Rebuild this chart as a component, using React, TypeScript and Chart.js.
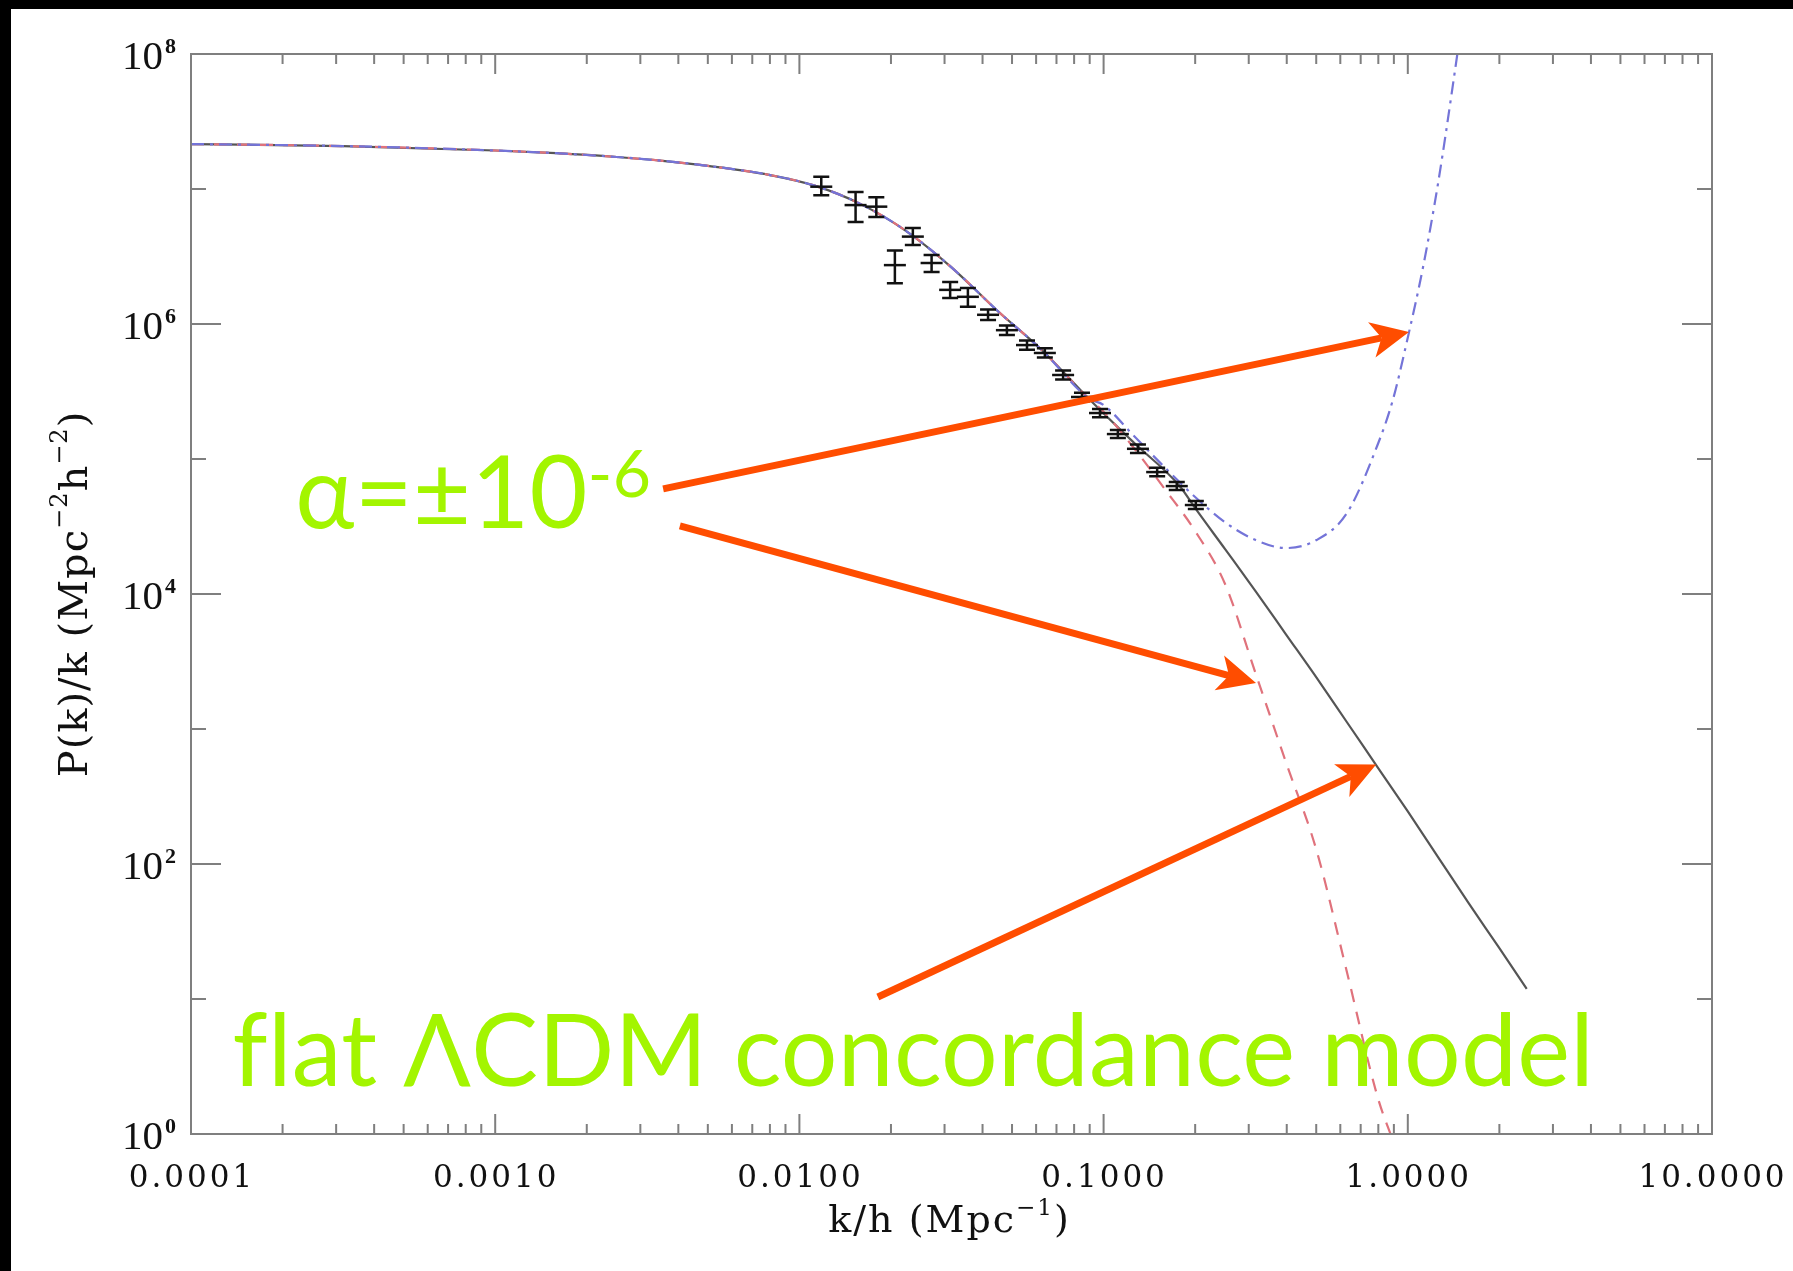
import React, { useEffect, useRef } from "react";
import { Chart, registerables } from "chart.js";

Chart.register(...registerables);

const WIDTH = 1793;
const HEIGHT = 1271;

// ---------- data (k in h/Mpc, P(k)/k in Mpc^-2 h^-2) ----------
// flat ΛCDM concordance model (solid)
const lcdmK = [1e-4, 3.16e-4, 1e-3, 1.585e-3, 2.51e-3, 3.55e-3, 5.01e-3, 7.94e-3, 0.01122, 0.01585, 0.02239, 0.03162, 0.04467, 0.0631, 0.0891, 0.1259, 0.1778, 0.1995, 0.2512, 0.3162, 0.3981, 0.5012, 0.631, 0.794, 1.0, 1.259, 1.585, 1.995, 2.46];
const lcdmP = [2.153e7, 2.08e7, 1.928e7, 1.841e7, 1.726e7, 1.617e7, 1.483e7, 1.274e7, 1.059e7, 7.76e6, 4.9e6, 2.63e6, 1.259e6, 6.31e5, 2.82e5, 1.318e5, 6.31e4, 4.36e4, 2.14e4, 1.047e4, 5.01e3, 2.4e3, 1122, 525, 245, 112, 51.3, 24.0, 11.9];

// α = -10^-6 (red dashed)
const dashedK = [1e-4, 3.16e-4, 1e-3, 1.585e-3, 2.51e-3, 3.55e-3, 5.01e-3, 7.94e-3, 0.01122, 0.01585, 0.02239, 0.03162, 0.04467, 0.0631, 0.0891, 0.1, 0.1259, 0.1585, 0.1995, 0.2512, 0.3162, 0.3981, 0.5012, 0.631, 0.794, 0.912];
const dashedP = [2.153e7, 2.08e7, 1.928e7, 1.841e7, 1.726e7, 1.617e7, 1.483e7, 1.274e7, 1.059e7, 7.76e6, 4.9e6, 2.63e6, 1.259e6, 6.31e5, 2.82e5, 2.24e5, 1.202e5, 6.03e4, 2.95e4, 1.175e4, 2.57e3, 562, 126, 15.8, 1.91, 0.79];

// α = +10^-6 (blue dash-dot)
const dashDotK = [1e-4, 3.16e-4, 1e-3, 1.585e-3, 2.51e-3, 3.55e-3, 5.01e-3, 7.94e-3, 0.01122, 0.01585, 0.02239, 0.03162, 0.04467, 0.0631, 0.0891, 0.1, 0.1259, 0.1585, 0.1995, 0.2512, 0.3162, 0.3981, 0.5012, 0.631, 0.794, 0.891, 1.0, 1.122, 1.259, 1.413, 1.585];
const dashDotP = [2.153e7, 2.08e7, 1.928e7, 1.841e7, 1.726e7, 1.617e7, 1.483e7, 1.274e7, 1.059e7, 7.76e6, 4.9e6, 2.63e6, 1.259e6, 6.31e5, 2.82e5, 2.51e5, 1.479e5, 8.71e4, 5.25e4, 3.39e4, 2.51e4, 2.19e4, 2.51e4, 3.98e4, 1.259e5, 2.69e5, 7.94e5, 2.63e6, 1.122e7, 6.31e7, 3.98e8];

// measured band powers with error bars
const obsK = [0.0118, 0.0153, 0.0179, 0.0206, 0.0236, 0.0272, 0.0313, 0.0358, 0.0417, 0.0481, 0.056, 0.0641, 0.0736, 0.0849, 0.0973, 0.1114, 0.1297, 0.15, 0.174, 0.201];
const obsP = [1.04e7, 7.6e6, 7.4e6, 2.73e6, 4.44e6, 2.83e6, 1.79e6, 1.59e6, 1.17e6, 9.0e5, 6.98e5, 6.1e5, 4.19e5, 2.88e5, 2.19e5, 1.53e5, 1.19e5, 8.0e4, 6.3e4, 4.56e4];
const obsLo = [9.0e6, 5.7e6, 6.2e6, 2.0e6, 3.85e6, 2.43e6, 1.56e6, 1.34e6, 1.07e6, 8.3e5, 6.45e5, 5.65e5, 3.88e5, 2.68e5, 2.04e5, 1.43e5, 1.11e5, 7.45e4, 5.9e4, 4.27e4];
const obsHi = [1.23e7, 9.5e6, 8.7e6, 3.5e6, 5.14e6, 3.24e6, 2.05e6, 1.85e6, 1.28e6, 9.75e5, 7.55e5, 6.6e5, 4.52e5, 3.1e5, 2.35e5, 1.64e5, 1.28e5, 8.6e4, 6.75e4, 4.88e4];

// axes
const xMajorTicks = [1e-4, 1e-3, 1e-2, 1e-1, 1, 10];
const xTickLabels = ["0.0001", "0.0010", "0.0100", "0.1000", "1.0000", "10.0000"];
const xMinorMultipliers = [2, 3, 4, 5, 6, 7, 8, 9];
const yMajorTicks = [1, 1e2, 1e4, 1e6, 1e8];
const yTickExponents = ["0", "2", "4", "6", "8"];
const yMinorTicks = [10, 1e3, 1e5, 1e7];

// annotations (anchored in data coordinates)
const alphaText = "α=±10";
const alphaExp = "-6";
const alphaAnchor = { k: 2.2e-4, p: 3.08e4 };
const modelText = "flat ΛCDM concordance model";
const modelAnchor = { k: 1.37e-4, p: 2.25 };
const arrowTailK = [0.003565, 0.004046, 0.01811];
const arrowTailP = [6.0e4, 3.19e4, 10.35];
const arrowHeadK = [1.009, 0.317, 0.787];
const arrowHeadP = [8.71e5, 2193, 545];

const ORANGE = "#ff4d00";
const LIME = "#a3f500";
const AXIS = "#7f7f7f";

type Seg = { t: string; sup?: boolean };

function drawRich(
  ctx: CanvasRenderingContext2D,
  segs: Seg[],
  x: number,
  y: number,
  baseFont: string,
  supFont: string,
  raise: number,
  align: "left" | "center" | "right",
  spacing = "0px"
) {
  ctx.textAlign = "left";
  ctx.textBaseline = "alphabetic";
  (ctx as any).letterSpacing = spacing;
  const widths = segs.map((s) => {
    ctx.font = s.sup ? supFont : baseFont;
    return ctx.measureText(s.t).width;
  });
  const total = widths.reduce((a, b) => a + b, 0);
  let cx = align === "center" ? x - total / 2 : align === "right" ? x - total : x;
  segs.forEach((s, i) => {
    ctx.font = s.sup ? supFont : baseFont;
    ctx.fillText(s.t, cx, s.sup ? y - raise : y);
    cx += widths[i];
  });
  (ctx as any).letterSpacing = "0px";
}

function drawArrow(ctx: CanvasRenderingContext2D, tx: number, ty: number, hx: number, hy: number) {
  const ang = Math.atan2(hy - ty, hx - tx);
  const ux = Math.cos(ang), uy = Math.sin(ang);
  const nx = -uy, ny = ux;
  const L = 38, W = 18, N = 10;
  const bx = hx - L * ux, by = hy - L * uy;
  const mx = hx - (L - N) * ux, my = hy - (L - N) * uy;
  ctx.strokeStyle = ORANGE;
  ctx.fillStyle = ORANGE;
  ctx.lineWidth = 7;
  ctx.lineCap = "butt";
  ctx.beginPath();
  ctx.moveTo(tx, ty);
  ctx.lineTo(mx, my);
  ctx.stroke();
  ctx.beginPath();
  ctx.moveTo(hx, hy);
  ctx.lineTo(bx + W * nx, by + W * ny);
  ctx.lineTo(mx, my);
  ctx.lineTo(bx - W * nx, by - W * ny);
  ctx.closePath();
  ctx.fill();
}

const paperPlugin = {
  id: "paper",
  beforeDraw(chart: any) {
    const { ctx, width, height } = chart;
    ctx.save();
    ctx.fillStyle = "#000";
    ctx.fillRect(0, 0, width, height);
    ctx.fillStyle = "#fff";
    ctx.fillRect(11, 9, width - 11, height - 9);
    ctx.restore();
  },
  afterDatasetsDraw(chart: any) {
    const { ctx, chartArea: a } = chart;
    const xs = chart.scales.x;
    const ys = chart.scales.y;
    ctx.save();

    // error bars
    ctx.strokeStyle = "#111";
    ctx.lineWidth = 2.5;
    obsK.forEach((k, i) => {
      const x = xs.getPixelForValue(k);
      const y1 = ys.getPixelForValue(obsLo[i]);
      const y2 = ys.getPixelForValue(obsHi[i]);
      ctx.beginPath();
      ctx.moveTo(x, y1);
      ctx.lineTo(x, y2);
      ctx.moveTo(x - 8, y1);
      ctx.lineTo(x + 8, y1);
      ctx.moveTo(x - 8, y2);
      ctx.lineTo(x + 8, y2);
      ctx.stroke();
    });

    // frame
    ctx.strokeStyle = AXIS;
    ctx.lineWidth = 2;
    ctx.strokeRect(a.left, a.top, a.right - a.left, a.bottom - a.top);

    // x ticks (inward, bottom and top)
    ctx.beginPath();
    xMajorTicks.forEach((v, i) => {
      const px = xs.getPixelForValue(v);
      ctx.moveTo(px, a.bottom);
      ctx.lineTo(px, a.bottom - 20);
      ctx.moveTo(px, a.top);
      ctx.lineTo(px, a.top + 20);
      if (i < xMajorTicks.length - 1) {
        xMinorMultipliers.forEach((m) => {
          const mx = xs.getPixelForValue(v * m);
          ctx.moveTo(mx, a.bottom);
          ctx.lineTo(mx, a.bottom - 10);
          ctx.moveTo(mx, a.top);
          ctx.lineTo(mx, a.top + 10);
        });
      }
    });
    // y ticks (inward, left and right)
    yMajorTicks.forEach((v) => {
      const py = ys.getPixelForValue(v);
      ctx.moveTo(a.left, py);
      ctx.lineTo(a.left + 30, py);
      ctx.moveTo(a.right, py);
      ctx.lineTo(a.right - 30, py);
    });
    yMinorTicks.forEach((v) => {
      const py = ys.getPixelForValue(v);
      ctx.moveTo(a.left, py);
      ctx.lineTo(a.left + 15, py);
      ctx.moveTo(a.right, py);
      ctx.lineTo(a.right - 15, py);
    });
    ctx.stroke();

    // x tick labels
    ctx.fillStyle = "#111";
    xMajorTicks.forEach((v, i) => {
      const px = xs.getPixelForValue(v);
      drawRich(ctx, [{ t: xTickLabels[i] }], px + 1, a.bottom + 53, '31px "DejaVu Serif"', '31px "DejaVu Serif"', 0, "center", "3px");
    });
    // y tick labels
    yMajorTicks.forEach((v, i) => {
      const py = ys.getPixelForValue(v);
      ctx.textAlign = "right";
      ctx.textBaseline = "alphabetic";
      ctx.font = '41px "Liberation Serif"';
      ctx.fillText("10", a.left - 28, py + 15);
      ctx.textAlign = "left";
      ctx.font = 'bold 22px "Liberation Serif"';
      ctx.fillText(yTickExponents[i], a.left - 26, py - 1);
    });

    // axis titles
    drawRich(
      ctx,
      [{ t: "k/h (Mpc" }, { t: "−1", sup: true }, { t: ")" }],
      (a.left + a.right) / 2 - 2,
      a.bottom + 98,
      '38px "DejaVu Serif"',
      '23px "DejaVu Serif"',
      17,
      "center",
      "2px"
    );
    ctx.save();
    ctx.translate(87, (a.top + a.bottom) / 2);
    ctx.rotate(-Math.PI / 2);
    drawRich(
      ctx,
      [{ t: "P(k)/k (Mpc" }, { t: "−2", sup: true }, { t: "h" }, { t: "−2", sup: true }, { t: ")" }],
      0,
      0,
      '40px "DejaVu Serif"',
      '24px "DejaVu Serif"',
      20,
      "center",
      "1px"
    );
    ctx.restore();
    ctx.restore();
  },
  afterDraw(chart: any) {
    const { ctx } = chart;
    const xs = chart.scales.x;
    const ys = chart.scales.y;
    ctx.save();
    arrowTailK.forEach((k, i) => {
      drawArrow(
        ctx,
        xs.getPixelForValue(k),
        ys.getPixelForValue(arrowTailP[i]),
        xs.getPixelForValue(arrowHeadK[i]),
        ys.getPixelForValue(arrowHeadP[i])
      );
    });
    ctx.fillStyle = LIME;
    drawRich(
      ctx,
      [{ t: alphaText }, { t: alphaExp, sup: true }],
      xs.getPixelForValue(alphaAnchor.k),
      ys.getPixelForValue(alphaAnchor.p),
      '100px Lato, "Open Sans", sans-serif',
      '66px Lato, "Open Sans", sans-serif',
      31,
      "left",
      "0.3px"
    );
    drawRich(
      ctx,
      [{ t: modelText }],
      xs.getPixelForValue(modelAnchor.k),
      ys.getPixelForValue(modelAnchor.p),
      '100px Lato, "Open Sans", sans-serif',
      '100px Lato',
      0,
      "left",
      "0.3px"
    );
    ctx.restore();
  },
};

function pts(kx: number[], py: number[]) {
  return kx.map((k, i) => ({ x: k, y: py[i] }));
}

export default function App() {
  const ref = useRef<HTMLCanvasElement>(null);
  useEffect(() => {
    if (!ref.current) return;
    const chart = new Chart(ref.current, {
      type: "scatter",
      data: {
        datasets: [
          {
            label: "measured P(k)/k",
            data: pts(obsK, obsP),
            showLine: false,
            pointStyle: "line",
            pointRadius: 11,
            pointBorderWidth: 2.5,
            pointBorderColor: "#111",
            pointBackgroundColor: "#111",
          },
          {
            label: "α = +10⁻⁶",
            data: pts(dashDotK, dashDotP),
            showLine: true,
            borderColor: "#7474d8",
            borderWidth: 2.2,
            borderDash: [13, 6, 3, 6],
            pointRadius: 0,
            cubicInterpolationMode: "monotone",
          },
          {
            label: "α = −10⁻⁶",
            data: pts(dashedK, dashedP),
            showLine: true,
            borderColor: "#e0727c",
            borderWidth: 2.2,
            borderDash: [13, 10],
            pointRadius: 0,
            cubicInterpolationMode: "monotone",
          },
          {
            label: "flat ΛCDM",
            data: pts(lcdmK, lcdmP),
            showLine: true,
            borderColor: "#555555",
            borderWidth: 2.2,
            pointRadius: 0,
            cubicInterpolationMode: "monotone",
          },
        ],
      } as any,
      options: {
        responsive: false,
        animation: false,
        devicePixelRatio: 1,
        events: [],
        layout: { padding: { left: 191, top: 54, right: 81, bottom: 137 } },
        scales: {
          x: { type: "logarithmic", min: 1e-4, max: 10, display: false },
          y: { type: "logarithmic", min: 1, max: 1e8, display: false },
        },
        plugins: { legend: { display: false }, tooltip: { enabled: false } },
      } as any,
      plugins: [paperPlugin as any],
    });
    return () => chart.destroy();
  }, []);
  return (
    <div style={{ position: "fixed", left: 0, top: 0, width: WIDTH, height: HEIGHT }}>
      <canvas ref={ref} width={WIDTH} height={HEIGHT} style={{ width: WIDTH, height: HEIGHT, display: "block" }} />
    </div>
  );
}
